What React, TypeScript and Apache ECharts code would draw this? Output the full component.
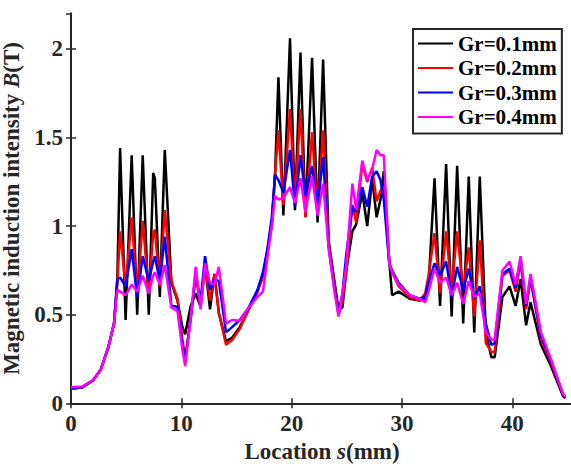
import React, { useEffect, useRef } from "react";
import * as echarts from "echarts";

const locations = [
  0, 1, 2, 2.7, 3.4, 3.9, 4.2, 4.45, 4.95, 5.5, 6.0, 6.5, 7.05, 7.45, 7.6, 8.05, 8.5, 9.1, 9.65, 10.1,
  10.35, 10.85, 11.3, 11.75, 12.15, 12.6, 13.0, 13.4, 14.05, 14.6, 15.3, 16.1, 16.9, 17.4, 17.8, 18.2,
  18.5, 18.8, 19.25, 19.85, 20.3, 20.8, 21.25, 21.85, 22.35, 22.85, 23.35, 23.85, 24.25, 24.6, 24.95,
  25.5, 25.85, 26.4, 26.85, 27.3, 27.7, 28.05, 28.35, 28.85, 29.1, 29.7, 30.7, 31.6, 32.1, 32.4, 32.95,
  33.45, 34.0, 34.5, 35.0, 35.55, 36.05, 36.55, 37.05, 37.6, 38.1, 38.4, 39.1, 39.75, 40.3, 40.75, 41.25,
  41.65, 42.6, 43.5, 44.6, 44.8,
];

const gr01 = [
  0.08, 0.09, 0.13, 0.19, 0.32, 0.45, 0.7, 1.44, 0.47, 1.4, 0.5, 1.4, 0.5, 1.3, 1.27, 0.6, 1.43, 0.68, 0.58, 0.43,
  0.39, 0.55, 0.62, 0.545, 0.78, 0.53, 0.73, 0.51, 0.35, 0.37, 0.43, 0.53, 0.63, 0.72, 0.86, 1.0,
  1.3, 1.84, 1.06, 2.06, 1.09, 1.98, 1.05, 1.95, 1.02, 1.94, 0.92, 0.7, 0.53, 0.54, 0.75,
  0.97, 1.01, 1.19, 1.0, 1.27, 1.05, 1.15, 1.31, 0.8, 0.61, 0.63, 0.59, 0.58, 0.59, 0.66, 1.27,
  0.55, 1.35, 0.49, 1.34, 0.45, 1.28, 0.4, 1.28, 0.4, 0.26, 0.26, 0.6, 0.66, 0.55, 0.7, 0.44,
  0.57, 0.33, 0.21, 0.04, 0.03,
];

const gr02 = [
  0.08, 0.09, 0.13, 0.19, 0.32, 0.45, 0.68, 0.97, 0.66, 1.05, 0.61, 1.03, 0.62, 0.96, 0.98, 0.66, 1.09, 0.69, 0.59, 0.36,
  0.25, 0.48, 0.72, 0.55, 0.78, 0.58, 0.73, 0.51, 0.33, 0.357, 0.42, 0.53, 0.63, 0.72, 0.86, 1.02,
  1.3, 1.54, 1.12, 1.66, 1.13, 1.66, 1.05, 1.53, 1.07, 1.54, 0.9, 0.68, 0.5, 0.58, 0.74,
  1.12, 1.02, 1.35, 1.25, 1.33, 1.14, 1.2, 1.22, 0.79, 0.74, 0.66, 0.6, 0.58, 0.62, 0.72, 0.96,
  0.62, 0.97, 0.64, 0.97, 0.64, 0.88, 0.49, 0.92, 0.34, 0.29, 0.29, 0.72, 0.75, 0.63, 0.8, 0.53,
  0.7, 0.36, 0.23, 0.05, 0.03,
];

const gr03 = [
  0.085, 0.09, 0.13, 0.19, 0.32, 0.45, 0.7, 0.71, 0.66, 0.87, 0.6, 0.83, 0.69, 0.8, 0.83, 0.69, 0.94, 0.55, 0.545, 0.33,
  0.245, 0.48, 0.73, 0.58, 0.83, 0.64, 0.7, 0.69, 0.4, 0.43, 0.47, 0.54, 0.64, 0.74, 0.87, 1.05,
  1.29, 1.26, 1.19, 1.43, 1.11, 1.4, 1.17, 1.34, 1.11, 1.39, 0.88, 0.66, 0.51, 0.62, 0.84,
  1.11, 1.08, 1.22, 1.11, 1.28, 1.31, 1.26, 1.15, 0.79, 0.75, 0.68, 0.61, 0.59, 0.6, 0.68, 0.79,
  0.72, 0.8, 0.6, 0.77, 0.64, 0.76, 0.59, 0.66, 0.45, 0.33, 0.34, 0.73, 0.76, 0.65, 0.82, 0.55,
  0.71, 0.38, 0.24, 0.05, 0.03,
];

const gr04 = [
  0.09, 0.095, 0.13, 0.19, 0.32, 0.45, 0.64, 0.63, 0.61, 0.67, 0.63, 0.72, 0.62, 0.72, 0.74, 0.67, 0.78, 0.54, 0.52, 0.3,
  0.21, 0.48, 0.77, 0.53, 0.79, 0.68, 0.67, 0.77, 0.45, 0.47, 0.466, 0.54, 0.6, 0.63, 0.82, 1.0,
  1.17, 1.15, 1.16, 1.22, 1.13, 1.27, 1.08, 1.28, 1.06, 1.24, 0.88, 0.64, 0.49, 0.62, 0.78,
  1.24, 1.09, 1.37, 1.26, 1.32, 1.43, 1.4, 1.4, 0.79, 0.74, 0.67, 0.61, 0.59, 0.57, 0.63, 0.76,
  0.68, 0.71, 0.61, 0.68, 0.56, 0.69, 0.6, 0.62, 0.4, 0.36, 0.36, 0.75, 0.8, 0.67, 0.83, 0.56,
  0.73, 0.4, 0.25, 0.05, 0.04,
];

const seriesNames = ["Gr=0.1mm", "Gr=0.2mm", "Gr=0.3mm", "Gr=0.4mm"];
const seriesColors = ["#000000", "#ff0000", "#0000ff", "#ff00ff"];
const seriesValues = [gr01, gr02, gr03, gr04];

const xTicks = { min: 0, max: 45.5, interval: 10 };
const yTicks = { min: 0, max: 2.2, interval: 0.5 };

const FONT = "'Liberation Serif', 'Times New Roman', serif";
const AXIS_COLOR = "#262626";

export default function App() {
  const ref = useRef<HTMLDivElement>(null);

  useEffect(() => {
    document.body.style.margin = "0";
    if (!ref.current) return;
    const chart = echarts.init(ref.current, null, { renderer: "svg" });

    const axisLine = { show: true, lineStyle: { color: AXIS_COLOR, width: 2 } };
    const axisTick = { show: true, inside: true, length: 5, lineStyle: { color: AXIS_COLOR, width: 1.5 } };
    const labelStyle = {
      color: AXIS_COLOR,
      fontFamily: FONT,
      fontWeight: "bold" as const,
      fontSize: 23,
    };
    const rich = {
      a: { ...labelStyle },
      b: { ...labelStyle, fontStyle: "italic" as const },
    };

    chart.setOption({
      animation: false,
      grid: {
        left: 71,
        right: -2,
        top: 13.5,
        bottom: 60.7,
        containLabel: false,
        outerBoundsMode: "none",
      },
      legend: {
        orient: "vertical",
        left: 413,
        top: 29,
        padding: [4, 5, 6, 5],
        itemGap: 3.5,
        itemWidth: 35,
        itemHeight: 2,
        icon: "rect",
        borderColor: AXIS_COLOR,
        borderWidth: 2,
        backgroundColor: "#ffffff",
        textStyle: { color: "#000", fontFamily: FONT, fontWeight: "bold", fontSize: 21 },
        data: seriesNames,
      },
      xAxis: [
        {
          type: "value",
          ...xTicks,
          axisLine,
          axisTick,
          splitLine: { show: false },
          axisLabel: { ...labelStyle, margin: 9, showMaxLabel: false },
          name: "{a|Location }{b|s}{a|(mm)}",
          nameLocation: "middle",
          nameGap: 34,
          nameTextStyle: { ...labelStyle, rich },
        },
        {
          type: "value",
          position: "top",
          ...xTicks,
          axisLine,
          axisTick,
          splitLine: { show: false },
          axisLabel: { show: false },
        },
      ],
      yAxis: [
        {
          type: "value",
          ...yTicks,
          axisLine,
          axisTick,
          splitLine: { show: false },
          axisLabel: { ...labelStyle, margin: 8, showMaxLabel: false },
          name: "{a|Magnetic induction intensity }{b|B}{a|(T)}",
          nameLocation: "middle",
          nameRotate: 90,
          nameGap: 41,
          nameTextStyle: { ...labelStyle, rich },
        },
        {
          type: "value",
          position: "right",
          ...yTicks,
          axisLine,
          axisTick,
          splitLine: { show: false },
          axisLabel: { show: false },
        },
      ],
      series: seriesNames.map((name, i) => ({
        name,
        type: "line",
        xAxisIndex: 0,
        yAxisIndex: 0,
        symbol: "none",
        lineStyle: { color: seriesColors[i], width: 2.5 },
        itemStyle: { color: seriesColors[i] },
        data: locations.map((x, j) => [x, seriesValues[i][j]]),
      })),
    });

    return () => chart.dispose();
  }, []);

  return (
    <div
      ref={ref}
      style={{ position: "fixed", left: 0, top: 0, width: 571, height: 464, background: "#fff" }}
    />
  );
}
